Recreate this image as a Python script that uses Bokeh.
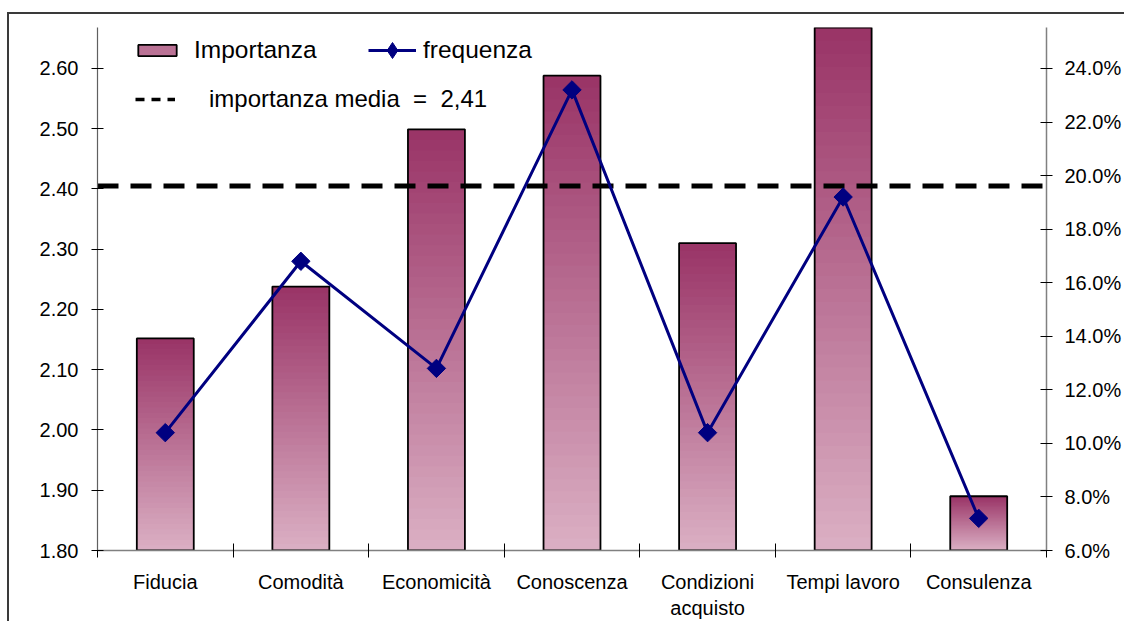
import math
from bokeh.plotting import figure
from bokeh.models import (Range1d, LinearAxis, FixedTicker, NumeralTickFormatter,
                          PrintfTickFormatter, Legend, LegendItem, ColumnDataSource)
from bokeh.embed import file_html
from bokeh.resources import INLINE

# ---- data ----
categories = ["Fiducia", "Comodità", "Economicità", "Conoscenza",
              "Condizioni\nacquisto", "Tempi lavoro", "Consulenza"]
importanza = [2.152, 2.238, 2.499, 2.588, 2.310, 2.668, 1.890]
frequenza = [10.4, 16.8, 12.8, 23.2, 10.4, 19.2, 7.2]   # percent
importanza_media = 2.405
media_label = "importanza media  =  2,41"
left_ticks = [1.80, 1.90, 2.00, 2.10, 2.20, 2.30, 2.40, 2.50, 2.60]
right_ticks = [6, 8, 10, 12, 14, 16, 18, 20, 22, 24]

Y0, Y1 = 1.80, 2.668
R0 = 6.0
R1 = R0 + (Y1 - Y0) * (24.0 - 6.0) / (2.60 - 1.80)

FONT = "Liberation Sans"
n = len(categories)
xs = [i + 0.5 for i in range(n)]

p = figure(width=1100, height=604, output_backend="svg", toolbar_location=None,
           x_range=Range1d(0, n), y_range=Range1d(Y0, Y1),
           frame_width=949, frame_height=523,
           min_border_left=88, min_border_right=63, min_border_top=13, min_border_bottom=68)
p.styles = {"border-top": "2px solid #3a3a3a", "border-left": "2px solid #3a3a3a",
            "margin-top": "12px", "margin-left": "7px"}
p.grid.visible = False
p.outline_line_color = None
p.background_fill_color = "white"
p.border_fill_color = "white"
p.extra_y_ranges = {"freq": Range1d(R0, R1)}

# ---- gradient bars ----
top_c = (0x99, 0x33, 0x66)
bot_c = (0xdb, 0xb0, 0xc4)
N = 40
L, R, B, T, C = [], [], [], [], []
mid = tuple(int(round((a + b) / 2)) for a, b in zip(top_c, bot_c))
L.append(0); R.append(0); B.append(Y0); T.append(Y0); C.append("#%02x%02x%02x" % mid)
bw = 0.42
for i, v in enumerate(importanza):
    h = v - Y0
    for k in range(N):
        f = (k + 0.5) / N
        col = tuple(int(round(b + (t - b) * f)) for t, b in zip(top_c, bot_c))
        L.append(xs[i] - bw / 2); R.append(xs[i] + bw / 2)
        B.append(Y0 + h * k / N)
        T.append(min(Y0 + h * (k + 1) / N + 0.002, v))
        C.append("#%02x%02x%02x" % col)
src = ColumnDataSource(dict(left=L, right=R, bottom=B, top=T, color=C))
bars = p.quad(left="left", right="right", bottom="bottom", top="top", source=src,
              fill_color="color", line_color=None)
outl = p.quad(left=[x - bw / 2 for x in xs], right=[x + bw / 2 for x in xs],
              bottom=[Y0] * n, top=importanza, fill_color=None,
              line_color="black", line_width=1.8)

# ---- mean line ----
p.line(x=[0, n], y=[importanza_media, importanza_media], line_color="black",
       line_width=5, line_dash="21 12")
mean_leg = p.line(x=[math.nan], y=[math.nan], line_color="black", line_width=3.5,
                  line_dash="9 7")

# ---- frequency line ----
fl = p.line(x=xs, y=frequenza, y_range_name="freq", line_color="#000080", line_width=3)
fm = p.scatter(x=xs, y=frequenza, y_range_name="freq", marker="square", angle=math.pi / 4,
               size=13, fill_color="#000080", line_color="#000080")
fm_leg = p.scatter(x=[math.nan], y=[math.nan], marker="diamond", size=16,
                   fill_color="#000080", line_color="#000080")

# ---- axes ----
xa = p.xaxis[0]
xa.ticker = FixedTicker(ticks=xs, minor_ticks=list(range(n + 1)))
xa.major_label_overrides = {x: c for x, c in zip(xs, categories)}
xa.major_tick_line_color = None
xa.major_tick_in = 0
xa.major_tick_out = 0
xa.minor_tick_in = 7
xa.minor_tick_out = 7
xa.minor_tick_line_color = "black"
xa.axis_line_color = "#808080"
xa.axis_line_width = 1.5
xa.major_label_standoff = 13
xa.major_label_text_font = FONT
xa.major_label_text_font_size = "20px"
xa.major_label_text_color = "black"

ya = p.yaxis[0]
ya.ticker = FixedTicker(ticks=left_ticks, minor_ticks=[])
ya.formatter = NumeralTickFormatter(format="0.00")
ya.major_tick_in = 6
ya.major_tick_out = 6
ya.major_tick_line_color = "black"
ya.axis_line_color = "#606060"
ya.axis_line_width = 1.2
ya.major_label_standoff = 13
ya.major_label_text_font = FONT
ya.major_label_text_font_size = "20px"
ya.major_label_text_color = "black"

ra = LinearAxis(y_range_name="freq")
ra.ticker = FixedTicker(ticks=right_ticks, minor_ticks=[])
ra.formatter = PrintfTickFormatter(format="%.1f%%")
ra.major_tick_in = 6
ra.major_tick_out = 6
ra.minor_tick_line_color = None
ra.major_tick_line_color = "black"
ra.axis_line_color = "#808080"
ra.axis_line_width = 1.5
ra.major_label_standoff = 12
ra.major_label_text_font = FONT
ra.major_label_text_font_size = "20px"
ra.major_label_text_color = "black"
p.add_layout(ra, "right")

# ---- legends ----
common = dict(orientation="horizontal", padding=0, margin=0, border_line_color=None,
              background_fill_alpha=0, label_text_font=FONT, label_text_color="black",
              label_height=28)
leg1a = Legend(items=[LegendItem(label="Importanza", renderers=[bars, outl])],
               location=(36, 486), glyph_width=48, glyph_height=14, label_standoff=13,
               label_text_font_size="24.5px", **common)
leg1b = Legend(items=[LegendItem(label="frequenza", renderers=[fl, fm_leg])],
               location=(271, 480), glyph_width=48, glyph_height=40, label_standoff=7,
               label_text_font_size="24.5px", **common)
leg2 = Legend(items=[LegendItem(label=media_label, renderers=[mean_leg])],
              location=(38, 437), glyph_width=40, glyph_height=18, label_standoff=34,
              label_text_font_size="24px", **common)
for lg in (leg1a, leg1b, leg2):
    p.add_layout(lg, "center")

open("out.html", "w").write(file_html(p, INLINE))
